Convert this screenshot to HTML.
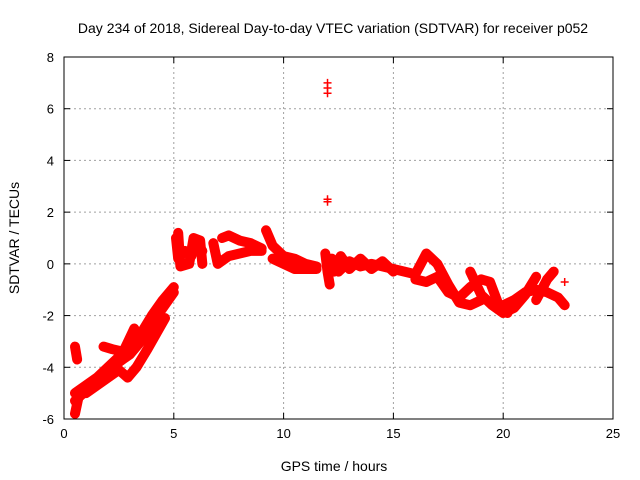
<!DOCTYPE html>
<html><head><meta charset="utf-8"><style>
body{margin:0;background:#fff}
svg{display:block;font-family:"Liberation Sans",sans-serif}
</style></head><body>
<svg id="c" width="640" height="480" viewBox="0 0 640 480">
<text x="333" y="33" text-anchor="middle" font-size="14">Day 234 of 2018, Sidereal Day-to-day VTEC variation (SDTVAR) for receiver p052</text>
<text x="334" y="471" text-anchor="middle" font-size="14">GPS time / hours</text>
<text x="19" y="238" text-anchor="middle" font-size="14" transform="rotate(-90 19 238)">SDTVAR / TECUs</text>
<g id="grid"></g><g id="marks"></g><g id="axes"></g>
</svg>
<script>
const xTicks=[0,5,10,15,20,25];
const yTicks=[-6,-4,-2,0,2,4,6,8];
const trackA=[[0.5,-5.0],[1,-4.7],[1.5,-4.4],[2,-4.0],[2.5,-3.6],[3,-3.3],[3.5,-2.7],[4,-2.0],[4.5,-1.4],[5,-0.9]];
const trackA2=[[0.5,-5.3],[1,-4.9],[1.5,-4.5],[2,-4.2],[2.5,-3.8],[3,-3.5],[3.5,-3.0],[4,-2.3],[4.5,-1.7],[5,-1.1]];
const trackB=[[0.5,-5.8],[0.7,-5.0],[1,-5.0],[1.5,-4.7],[2,-4.4],[2.5,-4.1],[2.9,-4.4],[3.3,-4.0],[3.8,-3.3],[4.2,-2.7],[4.6,-2.1]];
const trackC=[[0.5,-3.2],[0.6,-3.7]];
const trackD=[[1.8,-3.2],[2.2,-3.3],[2.7,-3.4],[3.2,-2.5]];
const trackE=[[5.1,1.0],[5.2,0.2],[5.5,0.5],[5.8,0.3],[6.0,0.8],[6.3,0.5]];
const trackE2=[[5.2,1.2],[5.3,-0.1],[5.7,0.0],[5.9,1.0],[6.2,0.9],[6.3,0.0]];
const trackF=[[6.8,0.8],[7.0,0.0],[7.5,0.3],[8,0.4],[8.5,0.5],[9,0.5]];
const trackG=[[7.2,1.0],[7.5,1.1],[8,0.9],[8.5,0.8],[9,0.6]];
const trackH=[[9.2,1.3],[9.5,0.7],[10,0.3],[10.5,0.2],[11,0.0],[11.5,-0.1]];
const trackI=[[9.5,0.2],[10,0.0],[10.5,-0.2],[11,-0.2],[11.5,-0.2]];
const trackJ=[[11.9,0.4],[12,-0.3],[12.1,-0.8]];
const trackK=[[12.2,0.2],[12.5,-0.3],[13,0.1],[13.5,-0.1],[14,0.0],[14.5,-0.1],[15,-0.2],[15.5,-0.3],[16,-0.4],[16.5,0.4],[17,0.0],[17.5,-0.8],[18,-1.5],[18.5,-1.6],[19,-1.4]];
const trackK2=[[12.3,-0.3],[12.6,0.3],[13,-0.2],[13.5,0.2],[14,-0.2],[14.5,0.1],[15,-0.3]];
const trackL=[[16,-0.6],[16.5,-0.7],[17,-0.5],[17.5,-1.1],[18,-1.3],[18.5,-0.9],[19,-0.6]];
const trackM=[[18.5,-0.3],[19,-1.2],[19.5,-1.6],[20,-1.9],[20.5,-1.7],[21,-1.2],[21.5,-0.5]];
const trackN=[[19,-0.6],[19.4,-0.7],[19.8,-1.6],[20.2,-1.9]];
const trackO=[[20,-1.6],[20.5,-1.4],[21,-1.1],[21.5,-1.0],[22,-1.1],[22.5,-1.3],[22.8,-1.6]];
const trackP=[[21.5,-1.4],[22,-0.6],[22.3,-0.3]];
const outliers=[[12,7.0],[12,6.8],[12,6.6],[12,2.5],[12,2.4],[22.8,-0.7]];
const tracks=[trackA,trackA2,trackB,trackC,trackD,trackE,trackE2,trackF,trackG,trackH,trackI,trackJ,trackK,trackK2,trackL,trackM,trackN,trackO,trackP];
const X0=64,X1=613,Y0=419,Y1=57;
const sx=v=>X0+(v-0)/25*(X1-X0);
const sy=v=>Y0-(v+6)/14*(Y0-Y1);
const NS='http://www.w3.org/2000/svg';
function mk(t,a,p){const e=document.createElementNS(NS,t);for(const k in a)e.setAttribute(k,a[k]);p.appendChild(e);return e;}
const grid=document.getElementById('grid'),marks=document.getElementById('marks'),axes=document.getElementById('axes');
xTicks.forEach(t=>{
 if(t>0&&t<25){const g=mk('line',{x1:sx(t),x2:sx(t),y1:Y0,y2:Y1,stroke:'#a0a0a0','stroke-dasharray':'2,3'},grid);
 
 }
 const a=mk('line',{x1:sx(t),x2:sx(t),y1:Y0,y2:Y0-6,stroke:'#000'},axes);
 
 
 const b=mk('line',{x1:sx(t),x2:sx(t),y1:Y1,y2:Y1+6,stroke:'#000'},axes);
 
 
 const l=mk('text',{x:sx(t),y:Y0+19,'text-anchor':'middle','font-size':'13'},axes);l.textContent=t;
 
 
});
yTicks.forEach(t=>{
 if(t>-6&&t<8){const g=mk('line',{x1:X0,x2:X1,y1:sy(t),y2:sy(t),stroke:'#a0a0a0','stroke-dasharray':'2,3'},grid);
 
 }
 const a=mk('line',{x1:X0,x2:X0+6,y1:sy(t),y2:sy(t),stroke:'#000'},axes);
 
 
 const b=mk('line',{x1:X1,x2:X1-6,y1:sy(t),y2:sy(t),stroke:'#000'},axes);
 
 
 const l=mk('text',{x:X0-10,y:sy(t)+5,'text-anchor':'end','font-size':'13'},axes);l.textContent=t;
 
 
});
const fr=mk('rect',{x:X0,y:Y1,width:X1-X0,height:Y0-Y1,fill:'none',stroke:'#000'},axes);


function plus(x,y){const p=mk('path',{d:`M${sx(x)-4},${sy(y)}h8M${sx(x)},${sy(y)-4}v8`,stroke:'#f00','stroke-width':'1.5'},marks);
 
 }
tracks.forEach(tr=>{
 const pl=mk('polyline',{points:tr.map(p=>sx(p[0])+','+sy(p[1])).join(' '),fill:'none',stroke:'#f00','stroke-width':'10','stroke-linejoin':'round','stroke-linecap':'round'},marks);
 
 
 tr.forEach(p=>plus(p[0],p[1]));
});
outliers.forEach(p=>plus(p[0],p[1]));
</script>
</body></html>
